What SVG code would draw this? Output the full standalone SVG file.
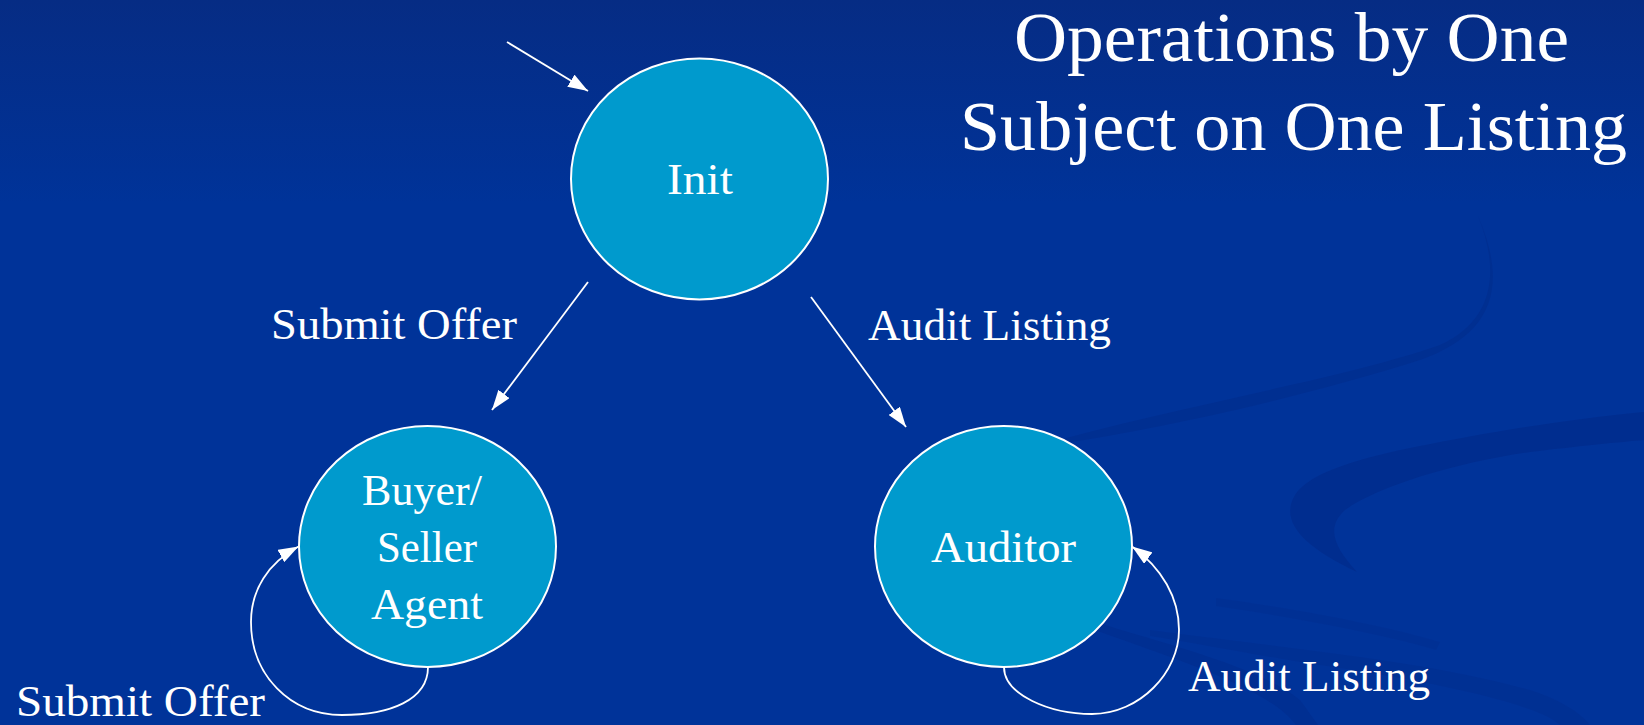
<svg xmlns="http://www.w3.org/2000/svg" width="1644" height="725" viewBox="0 0 1644 725">
  <style>
    .state { fill: #009acd; stroke: #ffffff; stroke-width: 2; }
    .name { fill: #ffffff; font-family: "Liberation Serif", "DejaVu Serif", serif; font-size: 45px; }
    .label { fill: #ffffff; font-family: "Liberation Serif", "DejaVu Serif", serif; font-size: 45px; }
    .title { fill: #ffffff; font-family: "Liberation Serif", "DejaVu Serif", serif; font-size: 70px; }
    .edge { fill: none; stroke: #ffffff; stroke-width: 1.8; marker-end: url(#head); }
    .swirl { fill: #002b8a; }
  </style>
  <defs>
    <linearGradient id="sky" x1="0" y1="0" x2="0" y2="1">
      <stop offset="0" stop-color="#062c84"/>
      <stop offset="0.28" stop-color="#003399"/>
      <stop offset="1" stop-color="#003399"/>
    </linearGradient>
    <marker id="head" viewBox="0 0 20 14" refX="20" refY="7" markerWidth="20" markerHeight="14" markerUnits="userSpaceOnUse" orient="auto">
      <path d="M0,0 L20,7 L0,14 Z" fill="#ffffff"/>
    </marker>
  </defs>

  <!-- backdrop -->
  <rect width="1644" height="725" fill="url(#sky)"/>
  <g id="backdrop-swirls">
    <path class="swirl" opacity="0.55" d="M1030,448 C1150,432 1300,398 1420,360 C1490,335 1510,290 1478,216 C1500,270 1495,320 1440,345 C1340,380 1180,405 1030,448 Z"/>
    <path class="swirl" opacity="0.7" d="M1644,412 C1560,420 1480,434 1420,446 C1360,458 1310,472 1295,495 C1280,520 1300,545 1357,572 C1335,548 1325,528 1345,510 C1380,485 1460,462 1530,452 C1580,446 1620,442 1644,440 Z"/>
    <path class="swirl" opacity="0.45" d="M1095,622 C1180,648 1260,668 1300,700 L1318,725 L1296,725 C1270,690 1190,664 1095,630 Z"/>
    <path class="swirl" opacity="0.35" d="M1150,630 C1300,650 1420,660 1530,690 C1560,700 1580,712 1590,725 L1560,725 C1540,705 1440,682 1300,662 C1240,652 1190,642 1150,636 Z"/>
    <path class="swirl" opacity="0.3" d="M1216,598 C1320,612 1400,630 1440,642 L1436,650 C1390,636 1310,620 1216,606 Z"/>
  </g>

  <!-- title -->
  <g id="title">
    <text class="title" x="1014" y="61" textLength="555" lengthAdjust="spacingAndGlyphs">Operations by One</text>
    <text class="title" x="960" y="150" textLength="667" lengthAdjust="spacingAndGlyphs">Subject on One Listing</text>
  </g>

  <!-- transitions -->
  <g id="connectors">
    <line class="edge" x1="507" y1="42" x2="588" y2="91"/>
    <line class="edge" x1="588" y1="282" x2="492" y2="410"/>
    <line class="edge" x1="811" y1="297" x2="906" y2="427"/>
    <path class="edge" d="M428,667 C428,700 390,715 342,715 C290,715 251,675 251,622 C251,590 268,563 298.5,546.5"/>
    <path class="edge" d="M1004,667 C1004,695 1050,714 1092,714 C1140,714 1179,672 1179,630 C1179,598 1162,568 1132,546.5"/>
  </g>

  <!-- transition labels -->
  <g id="edge-labels">
    <text class="label" x="271" y="339" textLength="246" lengthAdjust="spacingAndGlyphs">Submit Offer</text>
    <text class="label" x="868" y="340" textLength="243" lengthAdjust="spacingAndGlyphs">Audit Listing</text>
    <text class="label" x="16" y="716" textLength="249" lengthAdjust="spacingAndGlyphs">Submit Offer</text>
    <text class="label" x="1188" y="691" textLength="242" lengthAdjust="spacingAndGlyphs">Audit Listing</text>
  </g>

  <!-- states -->
  <g id="node-init">
    <ellipse class="state" cx="699.5" cy="179" rx="128.5" ry="120.5"/>
    <text class="name" x="667" y="194" textLength="66" lengthAdjust="spacingAndGlyphs">Init</text>
  </g>
  <g id="node-agent">
    <ellipse class="state" cx="427.5" cy="546.5" rx="128.5" ry="120.5"/>
    <text class="name" x="362" y="505" textLength="120" lengthAdjust="spacingAndGlyphs">Buyer/</text>
    <text class="name" x="377" y="562" textLength="100" lengthAdjust="spacingAndGlyphs">Seller</text>
    <text class="name" x="371" y="619" textLength="112" lengthAdjust="spacingAndGlyphs">Agent</text>
  </g>
  <g id="node-auditor">
    <ellipse class="state" cx="1003.5" cy="546.5" rx="128.5" ry="120.5"/>
    <text class="name" x="931" y="562" textLength="145" lengthAdjust="spacingAndGlyphs">Auditor</text>
  </g>
</svg>
